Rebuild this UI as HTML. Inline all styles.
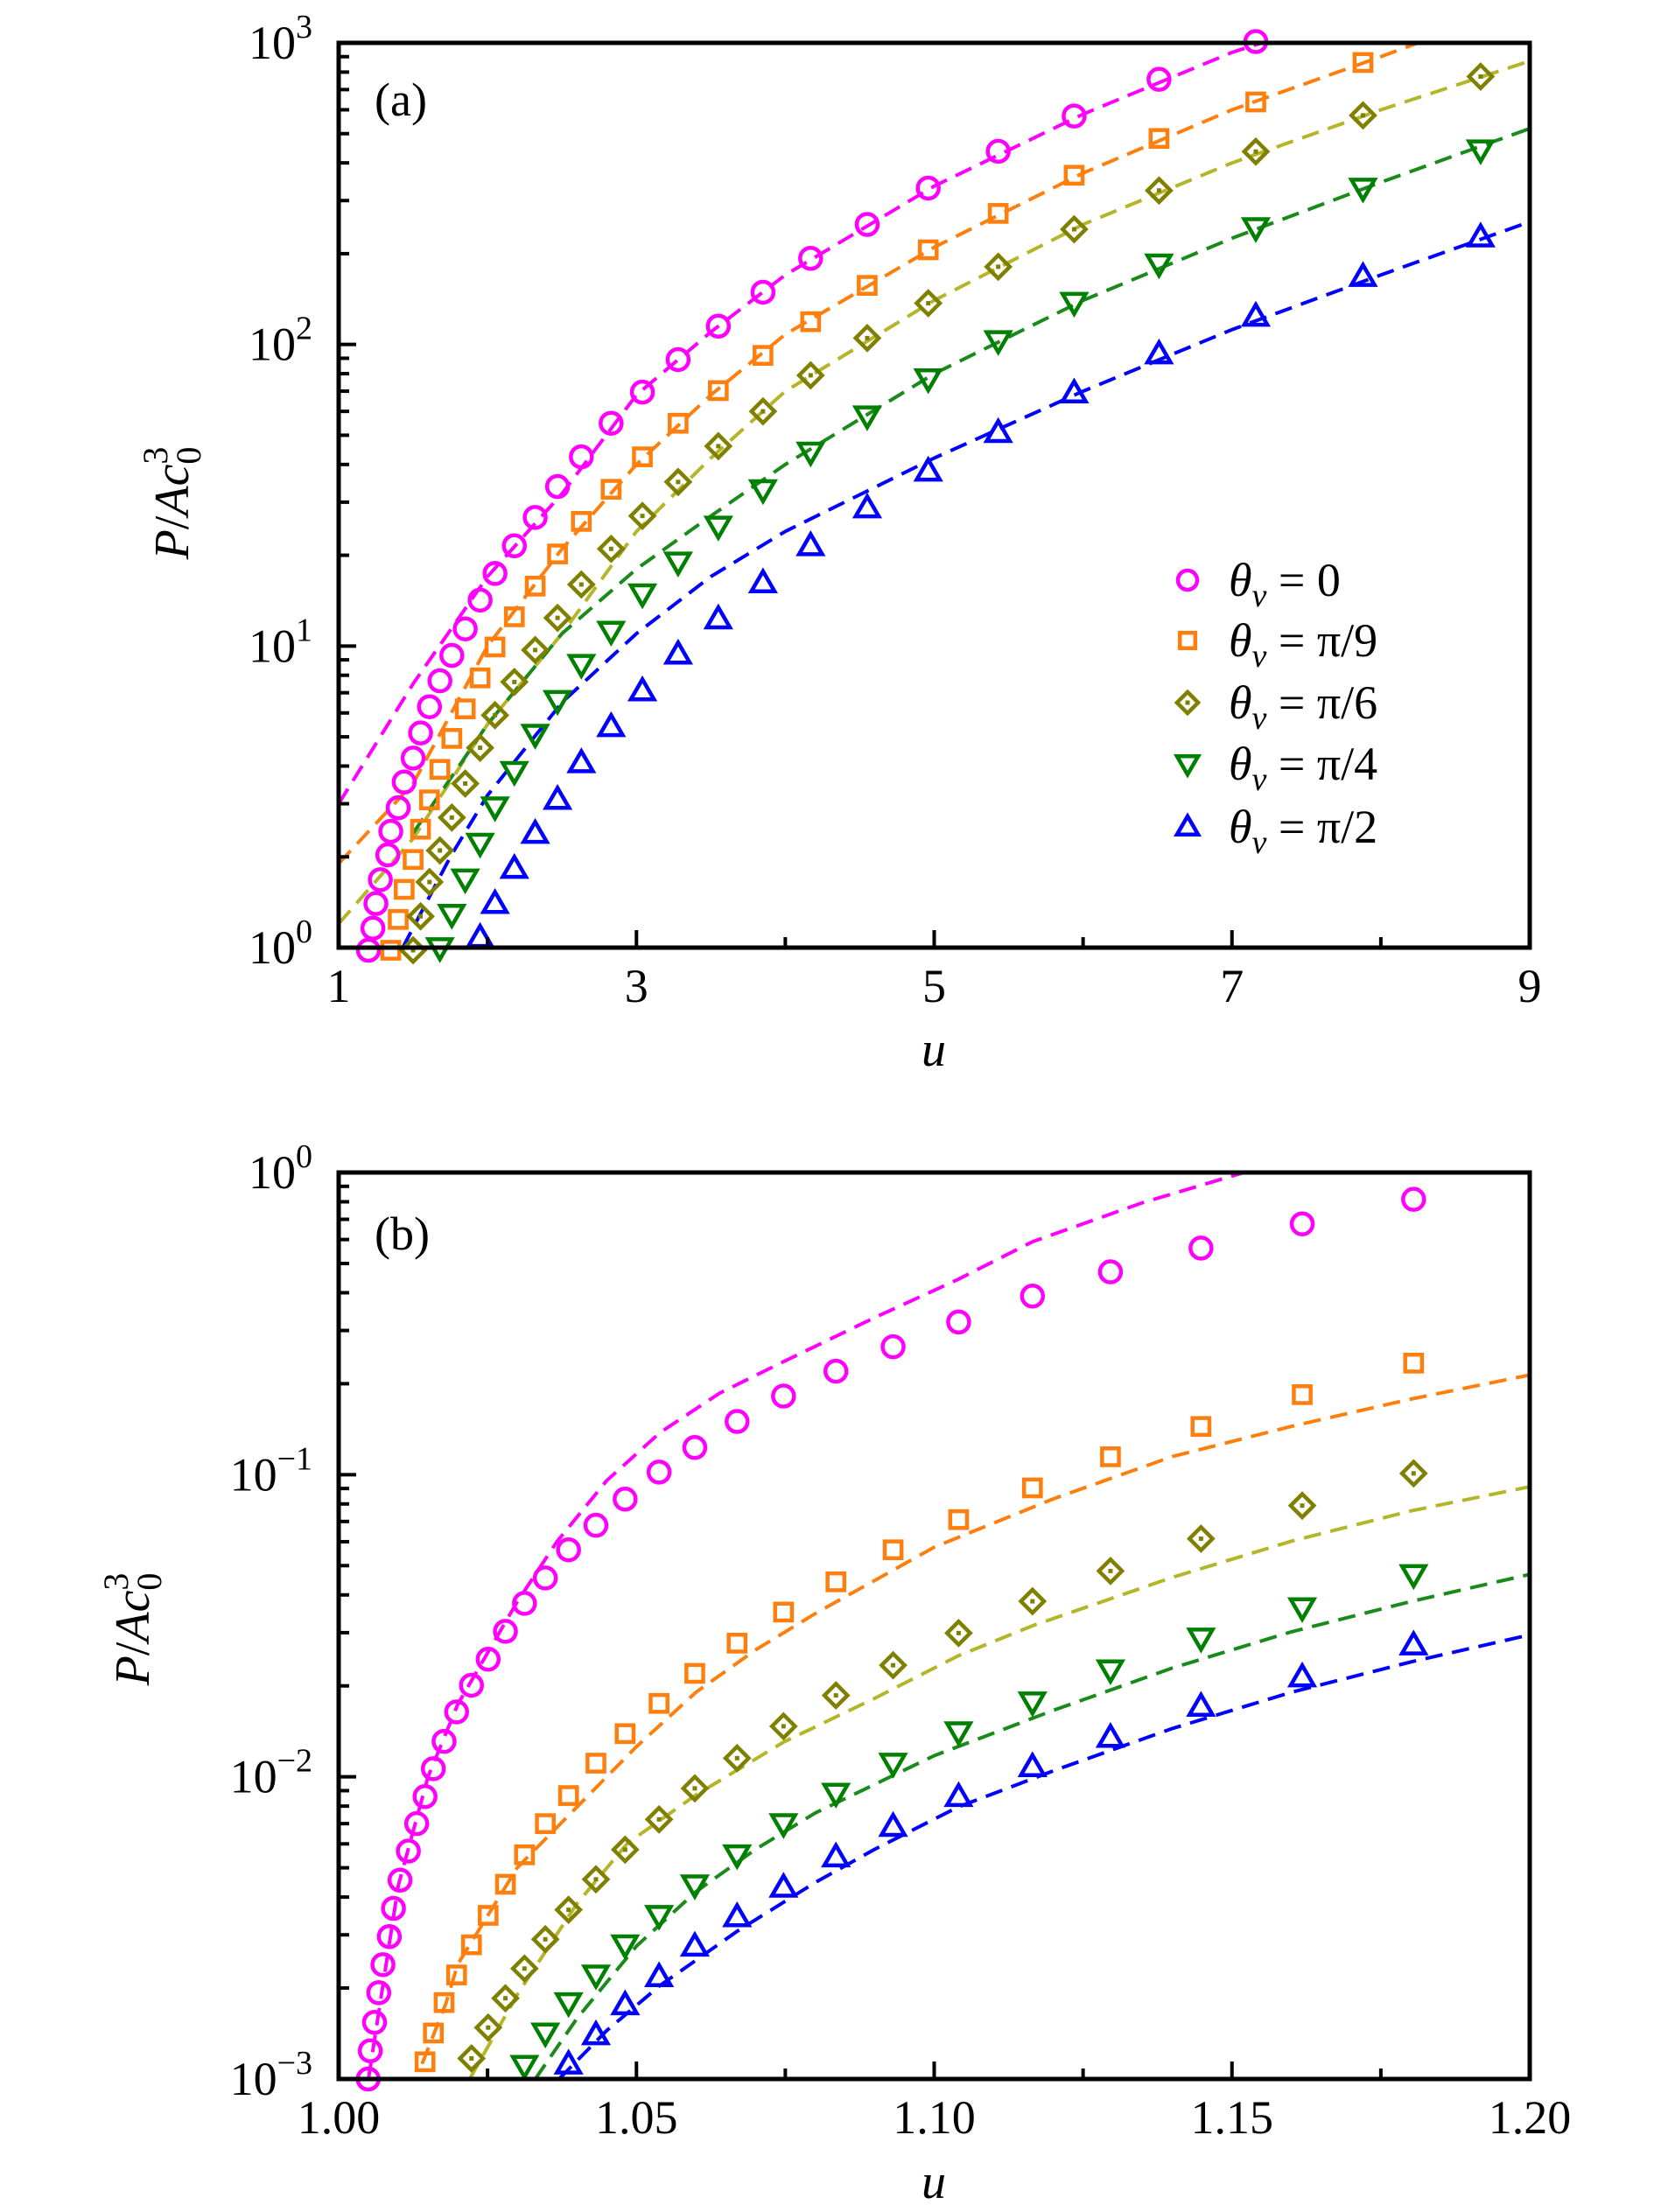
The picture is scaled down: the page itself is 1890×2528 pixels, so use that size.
<!DOCTYPE html>
<html><head><meta charset="utf-8"><style>
html,body{margin:0;padding:0;background:#fff;}
svg{display:block;}
text{font-family:"Liberation Serif","DejaVu Serif",serif;fill:#000;}
</style></head><body>
<svg id="fig" width="1890" height="2528" viewBox="0 0 1890 2528" xmlns="http://www.w3.org/2000/svg"></svg>
<script>
// ---------- Panel (a) data ----------
const aGridU = [1.20,1.23,1.25,1.28,1.33,1.35,1.40,1.44,1.50,1.55,1.61,1.68,1.76,1.85,1.95,2.05,2.18,2.32,2.47,2.63,2.83,3.04,3.28,3.55,3.85,4.17,4.55,4.96,5.43,5.94,6.51,7.16,7.88,8.67];
const aP_mag = [0.98,1.16,1.40,1.68,2.03,2.43,2.91,3.54,4.25,5.15,6.29,7.67,9.31,11.4,14.2,17.4,21.5,26.7,33.8,42.4,54.8,69.5,89.1,115,149,193,250,330,437,572,757,1010];
const aP_org = [0.98,1.24,1.56,1.96,2.47,3.09,3.90,4.94,6.19,7.84,9.93,12.5,15.8,20.2,25.9,33.1,42.4,54.8,70.3,92,119,157,206,272,364,482,637,861];
const aP_olv = [0.98,1.27,1.65,2.1,2.7,3.5,4.6,5.9,7.6,9.7,12.4,16,21,27,35,46,60,79,105,137,181,241,324,436,575,773];
const aP_grn = [1.0,1.29,1.69,2.22,2.93,3.84,5.1,6.6,8.7,11.2,14.9,19,25,33,44,58,77,103,138,185,244,330,442];
const aP_blu = [1.08,1.40,1.83,2.39,3.1,4.1,5.4,7.1,9.4,12.3,16.2,21.5,28.7,38,51,69,93,124,168,227];
const aStart = [0,5,8,11,14];
const aCurveU_mag = [1,1.5,2,2.5,3,3.5,4,5,6,7,7.2];
const aCurveP_mag = [3.0,7.5,17,32,68,110,170,335,580,930,1000];
const aCurveU_org = [1,1.5,2,2.5,3,3.5,4,5,6,7,8,8.25];
const aCurveP_org = [1.9,3.5,10,21,40,68,108,210,370,600,900,1000];
const aCurveU_olv = [1,1.5,2,2.5,3,3.5,4,5,6,7,8,9];
const aCurveP_olv = [1.2,2.3,5.5,11,24,42,70,140,250,400,600,870];
const aCurveU_grn = [1.5,2,2.5,3,3.5,4,5,6,7,8,9];
const aCurveP_grn = [2.4,5.5,11,18,27,40,80,140,225,345,520];
const aCurveU_blu = [1.43,1.75,2,2.5,3,3.5,4,5,6,7,8,9];
const aCurveP_blu = [1.0,2.0,3.2,6.5,11,17,24,42,70,112,170,255];
const aXTicks = [1,3,5,7,9];
const aXTickLabels = ["1","3","5","7","9"];
const aXMinor = [2,4,6,8];
const aYTicks = [0,1,2,3];

// ---------- Panel (b) data ----------
const bGridU = [1.00496,1.00531,1.00602,1.00673,1.00743,1.0085,1.0092,1.0103,1.0117,1.0131,1.0145,1.0159,1.0177,1.0198,1.0223,1.0251,1.0280,1.0312,1.0347,1.0386,1.0432,1.0481,1.0538,1.0598,1.0669,1.0747,1.0835,1.0931,1.1041,1.1165,1.1296,1.1448,1.1618,1.1805];
const bP_mag = [0.001,0.00124,0.00154,0.00193,0.00239,0.00296,0.00367,0.00455,0.00568,0.0070,0.0086,0.01064,0.0131,0.0164,0.0201,0.0245,0.0303,0.0375,0.0455,0.0564,0.068,0.083,0.102,0.123,0.150,0.182,0.220,0.265,0.320,0.390,0.469,0.562,0.676,0.815];
const bP_org = [0.00114,0.00142,0.00179,0.00221,0.00278,0.00348,0.00441,0.00552,0.0070,0.00867,0.0111,0.0139,0.0175,0.022,0.0277,0.0351,0.0442,0.0564,0.071,0.0904,0.1146,0.1444,0.184,0.234];
const bP_olv = [0.00117,0.00148,0.00185,0.00232,0.0029,0.00363,0.00458,0.00574,0.00723,0.00916,0.01153,0.0147,0.0186,0.0234,0.0299,0.0381,0.048,0.0614,0.079,0.101];
const bP_grn = [0.00111,0.00142,0.00179,0.00221,0.00278,0.00348,0.00439,0.00552,0.0070,0.00883,0.0111,0.0141,0.0177,0.0226,0.0288,0.0363,0.0467];
const bP_blu = [0.00112,0.0014,0.00176,0.00218,0.00275,0.00344,0.00431,0.00543,0.00685,0.0086,0.0108,0.0135,0.0171,0.0214,0.0273];
const bStart = [0,10,14,17,19];
// curves given as log10(P)
const bCurveU_mag = [1.005,1.01,1.015,1.02,1.03,1.0366,1.045,1.054,1.064,1.0747,1.09,1.104,1.1165,1.135,1.152];
const bCurveL_mag = [-3.0,-2.36,-2.0,-1.76,-1.42,-1.223,-1.02,-0.86,-0.73,-0.626,-0.48,-0.354,-0.229,-0.10,0];
const bCurveU_org = [1.014,1.018,1.02,1.03,1.04,1.05,1.06,1.07,1.08,1.09,1.10,1.12,1.14,1.16,1.18,1.20];
const bCurveL_org = [-2.95,-2.75,-2.62,-2.30,-2.10,-1.90,-1.72,-1.58,-1.46,-1.35,-1.24,-1.08,-0.94,-0.84,-0.75,-0.67];
const bCurveU_olv = [1.022,1.03,1.04,1.0485,1.06,1.0747,1.09,1.104,1.1165,1.14,1.16,1.18,1.20];
const bCurveL_olv = [-3.0,-2.72,-2.42,-2.22,-2.06,-1.885,-1.74,-1.60,-1.50,-1.34,-1.22,-1.12,-1.04];
const bCurveU_grn = [1.033,1.04,1.05,1.06,1.07,1.08,1.10,1.12,1.14,1.16,1.18,1.20];
const bCurveL_grn = [-3.0,-2.80,-2.56,-2.38,-2.24,-2.12,-1.93,-1.78,-1.64,-1.52,-1.42,-1.33];
const bCurveU_blu = [1.037,1.045,1.054,1.067,1.08,1.09,1.104,1.12,1.14,1.16,1.18,1.20];
const bCurveL_blu = [-3.0,-2.84,-2.69,-2.51,-2.35,-2.24,-2.10,-1.98,-1.84,-1.72,-1.62,-1.53];
const bXTicks = [1.00,1.05,1.10,1.15,1.20];
const bXTickLabels = ["1.00","1.05","1.10","1.15","1.20"];
const bXMinor = [1.025,1.075,1.125,1.175];
const bYTicks = [-3,-2,-1,0];

const colors = ["#ff00ff","#ff7f0e","#808000","#008000","#0000ff"];
const curveColors = ["#ff00ff","#ff7f0e","#b5b52a","#1a8a1a","#0000ff"];
const shapes = ["circle","square","diamond","tdown","tup"];
const legendLabels = ["0","π/9","π/6","π/4","π/2"];

const NS = "http://www.w3.org/2000/svg";
const svg = document.getElementById("fig");
function el(tag, attrs, parent){ const e=document.createElementNS(NS,tag); for(const k in attrs) e.setAttribute(k,attrs[k]); (parent||svg).appendChild(e); return e; }

function makeAxes(x0,x1,y0,y1,umin,umax,lmin,lmax){
  return {
    sx: u => x0 + (u-umin)/(umax-umin)*(x1-x0),
    sy: p => y1 - (Math.log10(p)-lmin)/(lmax-lmin)*(y1-y0),
    x0,x1,y0,y1
  };
}

function marker(g, shape, x, y, color, r){
  let m;
  if(shape==="circle") m = el("circle",{cx:x,cy:y,r:r,fill:"none",stroke:color,"stroke-width":4.5},g);
  else if(shape==="square") m = el("rect",{x:x-r*0.8,y:y-r*0.8,width:r*1.6,height:r*1.6,fill:"none",stroke:color,"stroke-width":4.5},g);
  else if(shape==="diamond"){
    m = el("polygon",{points:`${x},${y-r*1.1} ${x+r*1.1},${y} ${x},${y+r*1.1} ${x-r*1.1},${y}`,fill:"none",stroke:color,"stroke-width":4.5},g);
    el("rect",{x:x-2.5,y:y-2.5,width:5,height:5,fill:color},g);
  }
  else if(shape==="tdown") m = el("polygon",{points:`${x-r*1.1},${y-r*0.8} ${x+r*1.1},${y-r*0.8} ${x},${y+r*1.1}`,fill:"none",stroke:color,"stroke-width":4.5},g);
  else m = el("polygon",{points:`${x-r*1.1},${y+r*0.8} ${x+r*1.1},${y+r*0.8} ${x},${y-r*1.1}`,fill:"none",stroke:color,"stroke-width":4.5},g);
  return m;
}

function drawPanel(id, ax, grid, pts, starts, cu, cp, xticks, xlabels, minorX, yticks, label, labelPos, ylabelPos, xlabelPos){
  const g = el("g",{});
  
  
  const clipId = "clip-"+id;
  const cp0 = el("clipPath",{id:clipId},g);
  el("rect",{x:ax.x0,y:ax.y0,width:ax.x1-ax.x0,height:ax.y1-ax.y0},cp0);
  const plot = el("g",{"clip-path":`url(#${clipId})`},g);
  for(let s=0;s<5;s++){
    let d="";
    for(let i=0;i<cu[s].length;i++) d += (i?"L":"M")+ax.sx(cu[s][i]).toFixed(1)+","+ax.sy(cp[s][i]).toFixed(1);
    const p = el("path",{d:d,fill:"none",stroke:curveColors[s],"stroke-width":4,"stroke-dasharray":"20 11","stroke-linejoin":"round"},plot);
    
    
  }
  const mg = el("g",{},g);
  for(let s=0;s<5;s++){
    for(let i=0;i<pts[s].length;i++){
      const m = marker(mg, shapes[s], ax.sx(grid[starts[s]+i]), ax.sy(pts[s][i]), colors[s], 12);
      
      
    }
  }
  const tg = el("g",{stroke:"#000","stroke-width":4},g);
  for(const t of minorX){ el("line",{x1:ax.sx(t),y1:ax.y1,x2:ax.sx(t),y2:ax.y1-12},tg); }
  for(let i=0;i<xticks.length;i++){
    const x=ax.sx(xticks[i]);
    el("line",{x1:x,y1:ax.y1,x2:x,y2:ax.y1-20},tg);
    const t = el("text",{x:x,y:ax.y1+62,"font-size":54,"text-anchor":"middle"},g);
    t.textContent = xlabels[i];
    
    
  }
  for(let k=0;k<yticks.length;k++){
    const e = yticks[k];
    const y = ax.sy(Math.pow(10,e));
    el("line",{x1:ax.x0,y1:y,x2:ax.x0+20,y2:y},tg);
    if(k<yticks.length-1) for(let m=2;m<10;m++){ const ym=ax.sy(m*Math.pow(10,e)); el("line",{x1:ax.x0,y1:ym,x2:ax.x0+12,y2:ym},tg); }
    const t = el("text",{x:ax.x0-30,y:y+18,"font-size":54,"text-anchor":"end"},g);
    t.innerHTML = '10<tspan dy="-24" font-size="38">'+(e<0?'\u2212'+(-e):e)+'</tspan>';
    
    
  }
  const frame = el("rect",{x:ax.x0,y:ax.y0,width:ax.x1-ax.x0,height:ax.y1-ax.y0,fill:"none",stroke:"#000","stroke-width":5},g);
  
  
  const pl = el("text",{x:labelPos[0],y:labelPos[1],"font-size":54},g);
  pl.textContent = label;
  
  
  const yl = el("text",{x:0,y:0,"font-size":56,"text-anchor":"middle",transform:`translate(${ylabelPos[0]},${ylabelPos[1]}) rotate(-90)`},g);
  yl.innerHTML = '<tspan font-style="italic">P</tspan>/<tspan font-style="italic">Ac</tspan><tspan dy="14" font-size="40">0</tspan><tspan dx="-20" dy="-38" font-size="40">3</tspan>';
  
  
  const xl = el("text",{x:xlabelPos[0],y:xlabelPos[1],"font-size":56,"font-style":"italic","text-anchor":"middle"},g);
  xl.textContent = "u";
  
  
}

const axA = makeAxes(387,1748,49,1083,1,9,0,3);
drawPanel("panel-a", axA, aGridU, [aP_mag,aP_org,aP_olv,aP_grn,aP_blu], aStart,
  [aCurveU_mag,aCurveU_org,aCurveU_olv,aCurveU_grn,aCurveU_blu],[aCurveP_mag,aCurveP_org,aCurveP_olv,aCurveP_grn,aCurveP_blu],
  aXTicks,aXTickLabels,aXMinor,aYTicks,"(a)",[428,132],[215,575],[1067,1218]);

const toP = arr => arr.map(v => Math.pow(10, v));
const axB = makeAxes(387,1748,1340,2376,1.0,1.2,-3,0);
drawPanel("panel-b", axB, bGridU, [bP_mag,bP_org,bP_olv,bP_grn,bP_blu], bStart,
  [bCurveU_mag,bCurveU_org,bCurveU_olv,bCurveU_grn,bCurveU_blu],[toP(bCurveL_mag),toP(bCurveL_org),toP(bCurveL_olv),toP(bCurveL_grn),toP(bCurveL_blu)],
  bXTicks,bXTickLabels,bXMinor,bYTicks,"(b)",[428,1428],[170,1862],[1067,2512]);

const lg = el("g",{});


const legY = [663,732,803,873,945];
for(let s=0;s<5;s++){
  const m = marker(lg, shapes[s], 1357, legY[s], colors[s], 11);
  
  
  const t = el("text",{x:1404,y:legY[s]+18,"font-size":54},lg);
  t.innerHTML = '<tspan font-style="italic">θ</tspan><tspan font-style="italic" font-size="38" dy="12">v</tspan><tspan dy="-12"> = '+legendLabels[s]+'</tspan>';
  
  
}
</script>
</body></html>
